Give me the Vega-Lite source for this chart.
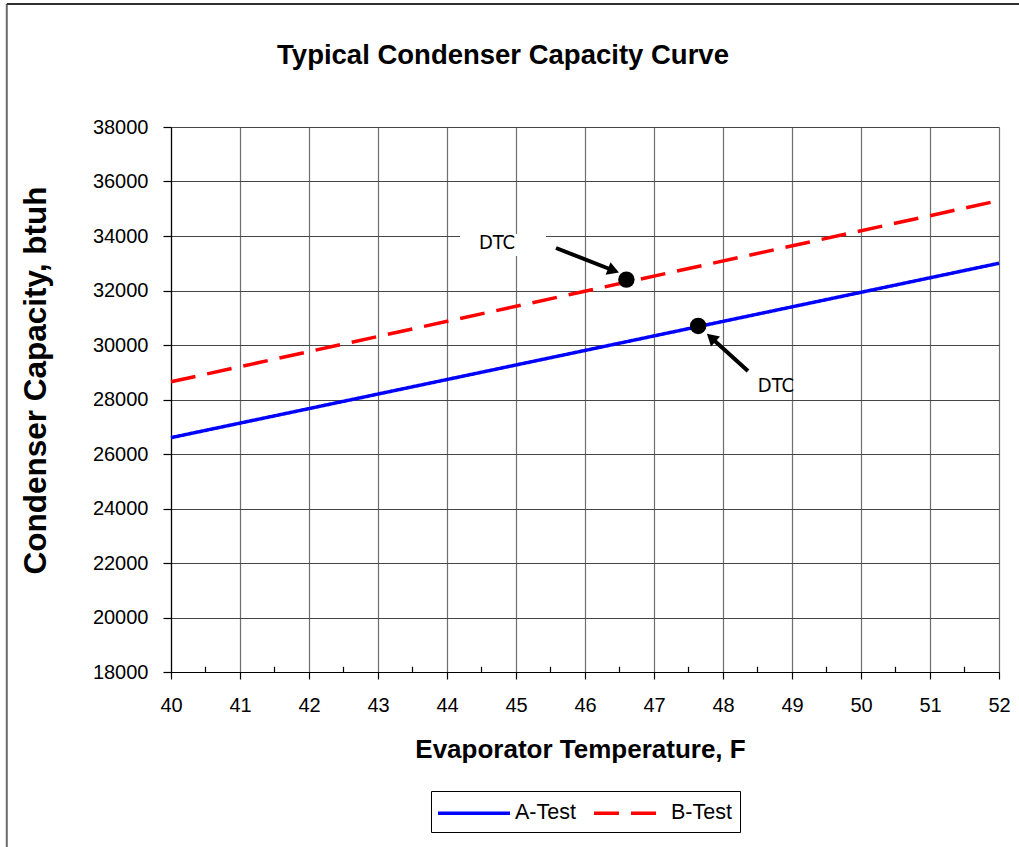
{
  "$schema": "https://vega.github.io/schema/vega-lite/v6.json",
  "width": 828,
  "height": 545,
  "autosize": "none",
  "padding": {"left": 171, "top": 127, "right": 20, "bottom": 175},
  "background": "white",
  "title": {
    "text": "Typical Condenser Capacity Curve",
    "font": "Liberation Sans",
    "fontSize": 27.5,
    "fontWeight": "bold",
    "color": "black",
    "anchor": "middle",
    "frame": "group",
    "dx": -82,
    "baseline": "alphabetic",
    "offset": -89
  },
  "datasets": {
    "lines": [
      {"temp": 40, "capacity": 26600, "series": "A-Test"},
      {"temp": 52, "capacity": 33000, "series": "A-Test"},
      {"temp": 40, "capacity": 28650, "series": "B-Test"},
      {"temp": 52, "capacity": 35300, "series": "B-Test"}
    ],
    "points": [
      {"temp": 46.6, "capacity": 32400, "series": "B-Test"},
      {"temp": 47.64, "capacity": 30700, "series": "A-Test"}
    ],
    "minor": [
      {"temp": 40.5}, {"temp": 41.5}, {"temp": 42.5}, {"temp": 43.5}, {"temp": 44.5}, {"temp": 45.5},
      {"temp": 46.5}, {"temp": 47.5}, {"temp": 48.5}, {"temp": 49.5}, {"temp": 50.5}, {"temp": 51.5}
    ],
    "labels": [
      {"x": 44.725, "y": 33743, "bx": 44.188, "bx2": 45.435, "by": 34073, "by2": 33266, "label": "DTC"},
      {"x": 48.768, "y": 28495, "bx": 48.391, "bx2": 48.99, "by": 29193, "by2": 28092, "label": "DTC"}
    ],
    "arrows": [
      {"x": 45.58, "y": 33560, "x2": 46.413, "y2": 32734, "angle": 21.3, "shape": "triangle-right"},
      {"x": 48.362, "y": 29046, "x2": 47.829, "y2": 30268, "angle": 42.1, "shape": "triangle-left"}
    ],
    "frame": [
      {"left": 37.62, "right": 70, "top": 42514, "bottom": 0}
    ]
  },
  "layer": [
    {
      "data": {"name": "frame"},
      "mark": {"type": "rule", "color": "#6a6a6a", "strokeWidth": 2, "clip": false},
      "encoding": {
        "x": {"field": "left", "type": "quantitative"},
        "y": {"field": "top", "type": "quantitative"},
        "y2": {"field": "bottom"}
      }
    },
    {
      "data": {"name": "frame"},
      "mark": {"type": "rule", "color": "#303030", "strokeWidth": 2, "clip": false},
      "encoding": {
        "x": {"field": "left", "type": "quantitative"},
        "x2": {"field": "right"},
        "y": {"field": "top", "type": "quantitative"}
      }
    },
    {
      "data": {"name": "lines"},
      "mark": {"type": "line", "strokeWidth": 3.5},
      "encoding": {
        "x": {
          "field": "temp", "type": "quantitative",
          "scale": {"domain": [40, 52], "nice": false, "zero": false},
          "axis": {
            "title": "Evaporator Temperature, F",
            "values": [40, 41, 42, 43, 44, 45, 46, 47, 48, 49, 50, 51, 52],
            "format": "d",
            "labelFlush": false,
            "grid": true,
            "gridColor": "#6e6e6e",
            "gridWidth": 1.2,
            "gridOpacity": 1,
            "domainColor": "black",
            "domainWidth": 1.2,
            "tickColor": "black",
            "tickSize": 7,
            "tickWidth": 1.2,
            "labelFont": "Liberation Sans",
            "labelFontSize": 20,
            "labelColor": "black",
            "labelPadding": 16,
            "titleFont": "Liberation Sans",
            "titleFontSize": 26,
            "titleFontWeight": "bold",
            "titleColor": "black",
            "titleX": 409,
            "titleY": 77,
            "titleBaseline": "middle",
            "titleAlign": "center"
          }
        },
        "y": {
          "field": "capacity", "type": "quantitative",
          "scale": {"domain": [18000, 38000], "nice": false, "zero": false},
          "axis": {
            "title": "Condenser Capacity, btuh",
            "values": [18000, 20000, 22000, 24000, 26000, 28000, 30000, 32000, 34000, 36000, 38000],
            "format": "d",
            "labelFlush": false,
            "grid": true,
            "gridColor": "#454545",
            "gridWidth": 1.2,
            "gridOpacity": 1,
            "domainColor": "black",
            "domainWidth": 1.2,
            "tickColor": "black",
            "tickSize": 8,
            "tickWidth": 1.2,
            "labelFont": "Liberation Sans",
            "labelFontSize": 20,
            "labelColor": "black",
            "labelPadding": 15,
            "titleFont": "Liberation Sans",
            "titleFontSize": 31.5,
            "titleFontWeight": "bold",
            "titleColor": "black",
            "titleX": -135,
            "titleY": 253,
            "titleAngle": -90,
            "titleBaseline": "middle",
            "titleAlign": "center"
          }
        },
        "color": {
          "field": "series", "type": "nominal",
          "scale": {"domain": ["A-Test", "B-Test"], "range": ["#0000ff", "#ff0000"]},
          "legend": {
            "title": null,
            "orient": "none",
            "legendX": 260,
            "legendY": 664,
            "direction": "horizontal",
            "strokeColor": "black",
            "padding": 8,
            "symbolType": "M-3,0H3",
            "symbolSize": 576,
            "symbolOffset": 21,
            "symbolStrokeWidth": 3.5,
            "labelFont": "Liberation Sans",
            "labelFontSize": 21.5,
            "labelColor": "black",
            "labelOffset": 27,
            "columnPadding": 11
          }
        },
        "strokeDash": {
          "field": "series", "type": "nominal",
          "scale": {"domain": ["A-Test", "B-Test"], "range": [[1, 0], [25, 12]]},
          "legend": {
            "title": null,
            "orient": "none",
            "legendX": 260,
            "legendY": 664,
            "direction": "horizontal",
            "strokeColor": "black",
            "padding": 8,
            "symbolType": "M-3,0H3",
            "symbolSize": 576,
            "symbolOffset": 21,
            "symbolStrokeWidth": 3.5,
            "labelFont": "Liberation Sans",
            "labelFontSize": 21.5,
            "labelColor": "black",
            "labelOffset": 27,
            "columnPadding": 11
          }
        }
      }
    },
    {
      "data": {"name": "minor"},
      "mark": {"type": "rule", "color": "black", "strokeWidth": 1.2},
      "encoding": {
        "x": {"field": "temp", "type": "quantitative"},
        "y": {"datum": 18000, "type": "quantitative"},
        "y2": {"datum": 18190}
      }
    },
    {
      "data": {"name": "labels"},
      "mark": {"type": "rect", "fill": "white", "stroke": null},
      "encoding": {
        "x": {"field": "bx", "type": "quantitative"},
        "x2": {"field": "bx2"},
        "y": {"field": "by", "type": "quantitative"},
        "y2": {"field": "by2"}
      }
    },
    {
      "data": {"name": "labels"},
      "mark": {"type": "text", "font": "DejaVu Sans Condensed, Liberation Sans", "fontSize": 20, "color": "black", "align": "center", "baseline": "middle"},
      "encoding": {
        "x": {"field": "x", "type": "quantitative"},
        "y": {"field": "y", "type": "quantitative"},
        "text": {"field": "label"}
      }
    },
    {
      "data": {"name": "arrows"},
      "mark": {"type": "rule", "color": "black", "strokeWidth": 4},
      "encoding": {
        "x": {"field": "x", "type": "quantitative"},
        "y": {"field": "y", "type": "quantitative"},
        "x2": {"field": "x2"},
        "y2": {"field": "y2"}
      }
    },
    {
      "data": {"name": "arrows"},
      "mark": {"type": "point", "filled": true, "color": "black", "opacity": 1, "size": 180},
      "encoding": {
        "x": {"field": "x2", "type": "quantitative"},
        "y": {"field": "y2", "type": "quantitative"},
        "shape": {"field": "shape", "type": "nominal", "scale": null},
        "angle": {"field": "angle", "type": "quantitative", "scale": null}
      }
    },
    {
      "data": {"name": "points"},
      "mark": {"type": "circle", "color": "black", "opacity": 1, "size": 270},
      "encoding": {
        "x": {"field": "temp", "type": "quantitative"},
        "y": {"field": "capacity", "type": "quantitative"}
      }
    }
  ],
  "config": {
    "view": {"stroke": null}
  }
}
